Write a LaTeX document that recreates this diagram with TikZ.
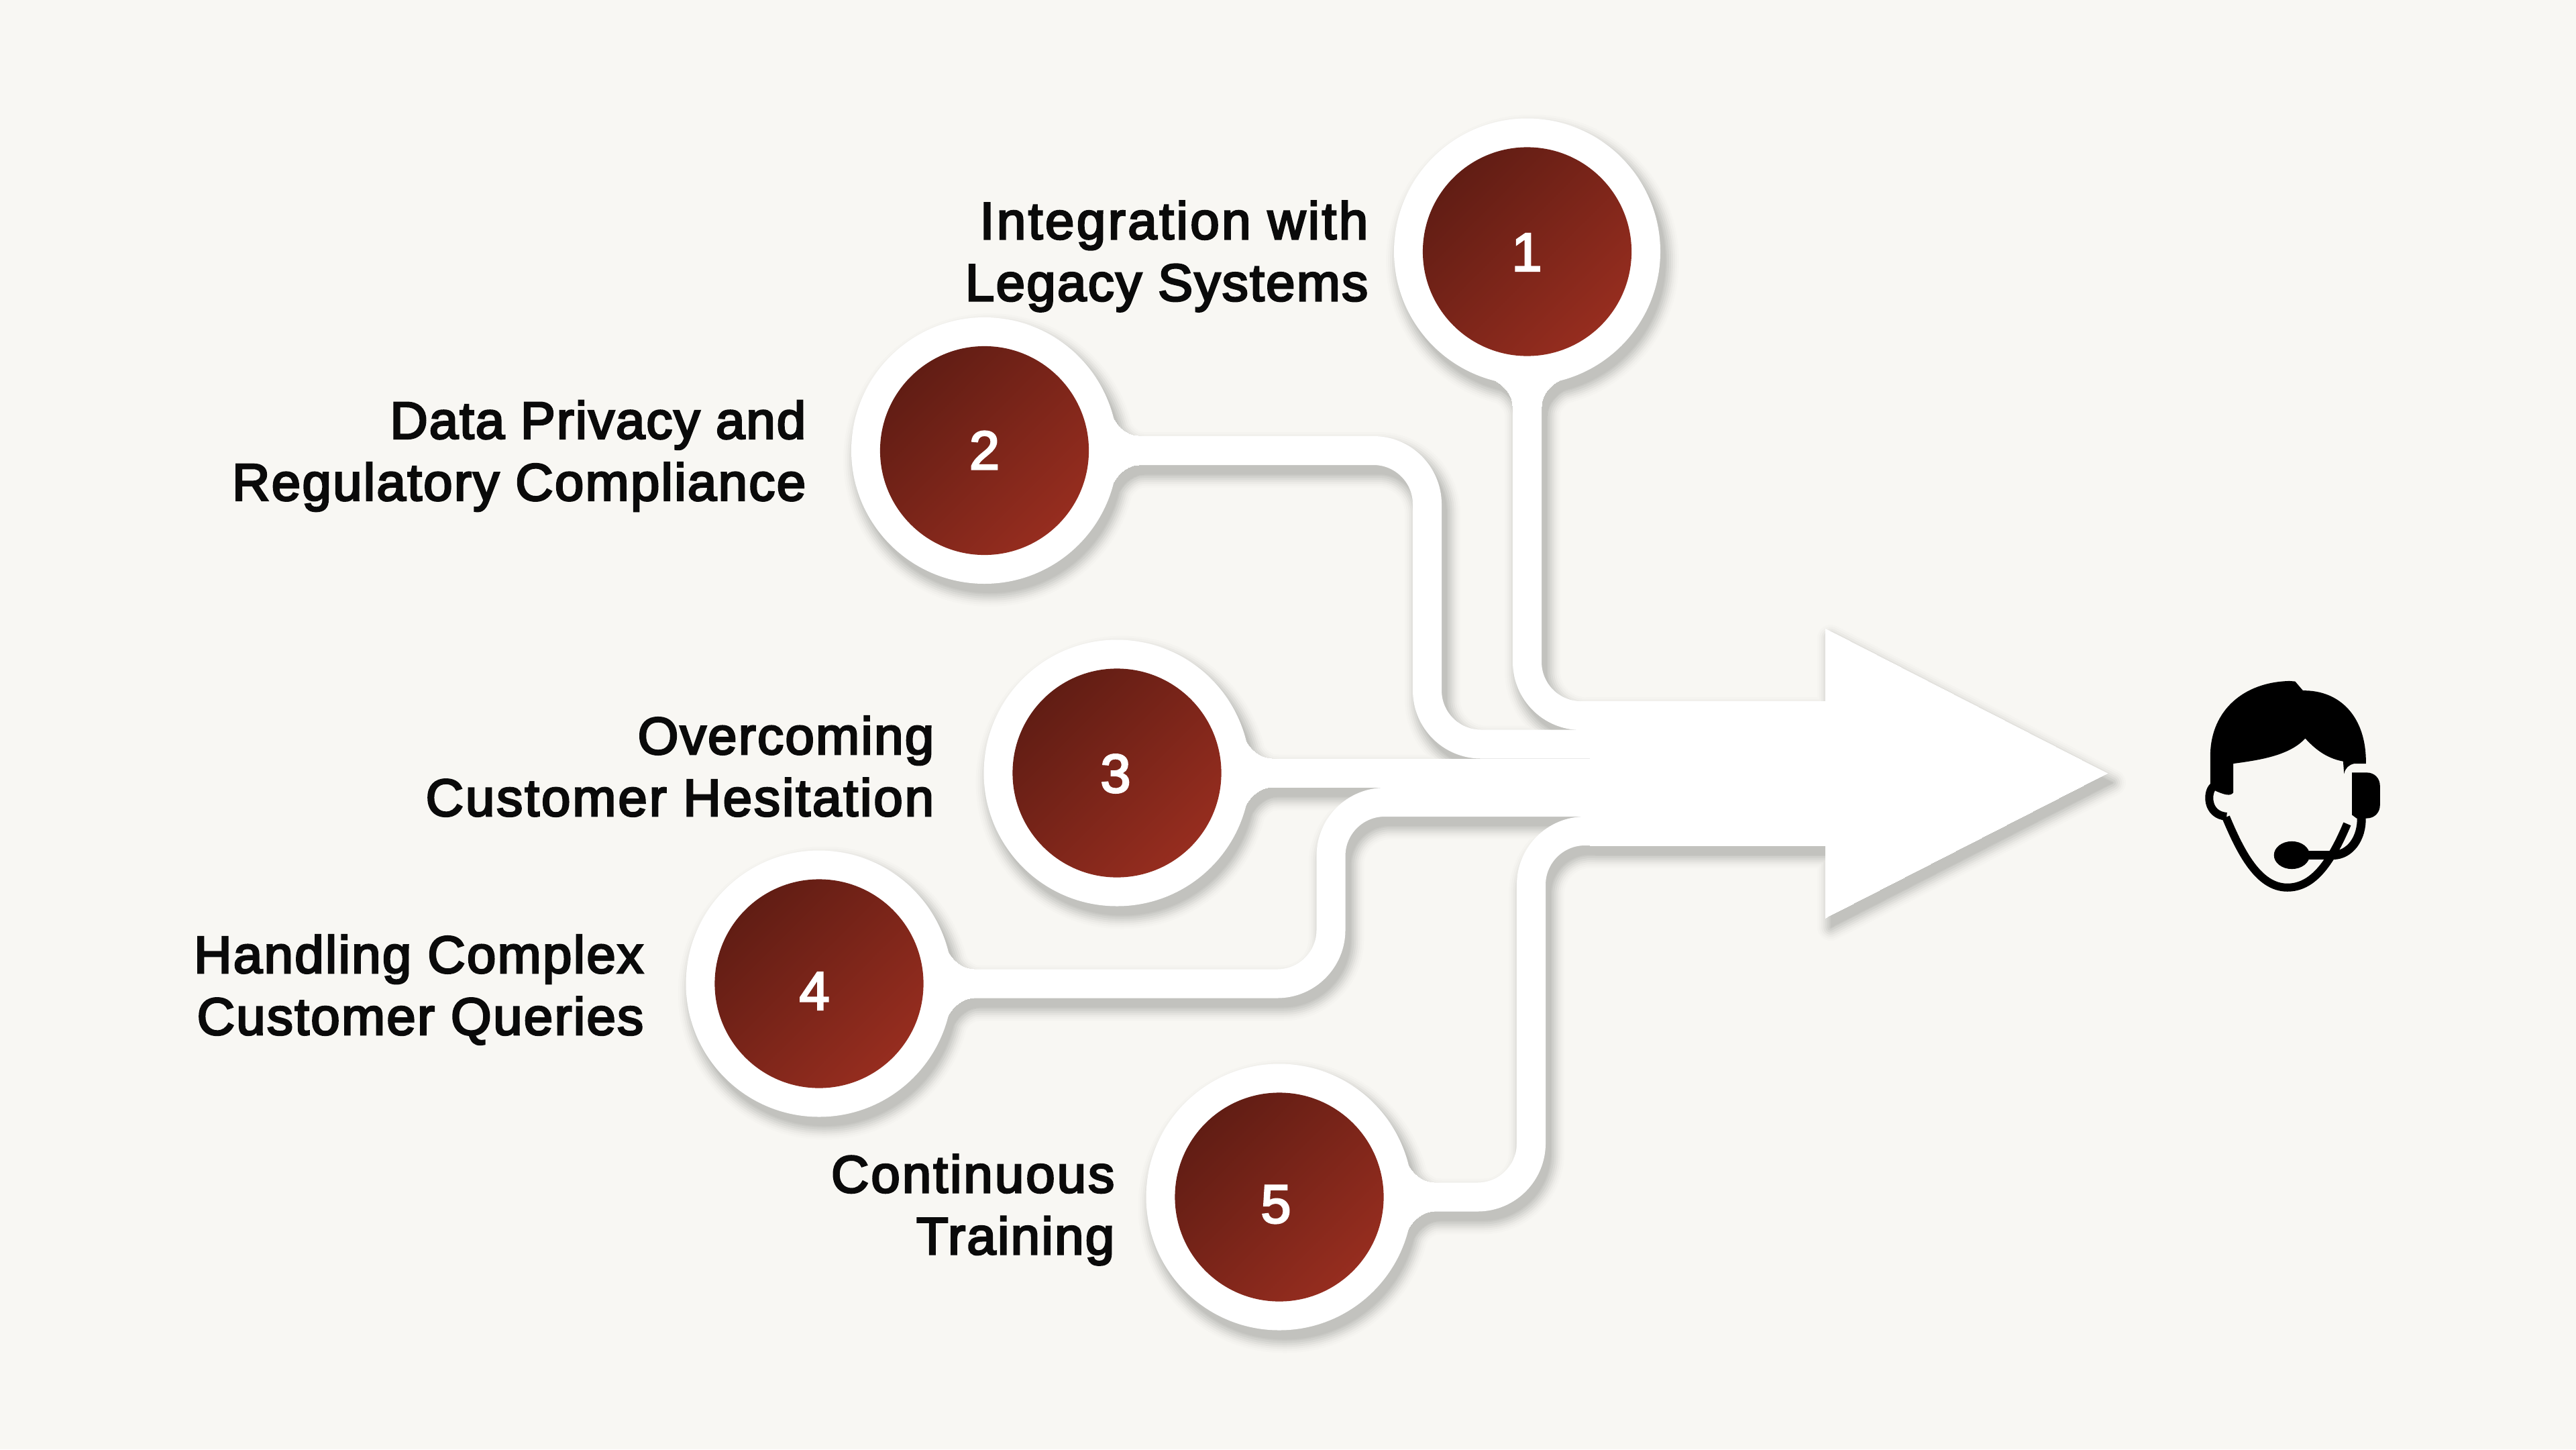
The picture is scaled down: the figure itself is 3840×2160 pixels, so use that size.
\documentclass[tikz,border=0pt]{standalone}
\usepackage{fontspec}
\setmainfont[FakeBold=3.6,LetterSpace=2.95]{Liberation Sans}
\newfontfamily\digitfont[FakeBold=3.4]{Liberation Sans}
\newcommand{\lsp}[2]{{\addfontfeature{LetterSpace=#1}#2}}
\pgfdeclarelayer{shadowlayer}
\pgfdeclarelayer{whitelayer}
\pgfsetlayers{shadowlayer,whitelayer,main}
\definecolor{pagebg}{HTML}{F8F7F3}
\definecolor{discdark}{HTML}{611D14}
\definecolor{disclight}{HTML}{962D1F}
\definecolor{inkc}{HTML}{0A0A0A}
\tikzset{
  disc/.style={circle,inner sep=0pt,minimum size=3.11cm,top color=discdark,bottom color=disclight,shading angle=45},
  digit/.style={text=white,font=\digitfont\fontsize{23}{26}\selectfont,inner sep=0pt},
  caption/.style={anchor=east,align=right,text=inkc,inner sep=0pt,font=\fontsize{22.2}{26.2}\selectfont},
  iconline/.style={draw=black,line cap=butt,line join=round,fill=none}
}
% one copy of the whole white silhouette, #1 px wider all round (as stroke)
\newcommand{\silh}[1]{%
  \begin{scope}[line join=round,line cap=butt,rounded corners=0.8cm]
    \draw[line width=(43+#1)*0.01cm] (n1.center) -- (v1) -- (e1);
    \draw[line width=(43+#1)*0.01cm] (n2.center) -| (v2) -- (e2);
    \draw[line width=(43+#1)*0.01cm] (n3.center) -- (e3);
    \draw[line width=(43+#1)*0.01cm] (n4.center) -| (v4) -- (e4);
    \draw[line width=(43+#1)*0.01cm] (n5.center) -| (v5) -- (e5);
  \end{scope}
  \foreach \n in {n1,n2,n3,n4,n5}{\fill (\n.center) circle[radius={(198.5+#1/2)*0.01cm}];}
  \foreach \n/\a in {n1/-90,n2/0,n3/0,n4/0,n5/0}{%
    \filldraw[line width=(#1)*0.01cm,line join=round,shift={(\n.center)},rotate=\a]
      (188,-58) .. controls (194,-38) and (212,-21.5) .. (230,-21.5) -- (230,21.5)
      .. controls (212,21.5) and (194,38) .. (188,58) -- cycle;}
  \filldraw[line width=(#1)*0.01cm,line join=round]
      (2721,937) -- (3141,1152.5) -- (2721,1368) -- (2721,1260) -- (2370,1260) -- (2370,1045) -- (2721,1045) -- cycle;
}
\newcommand{\shadowlayer}[2]{%
  \begin{scope}[transform canvas={shift={(0.08cm,-0.14cm)}}]
  \begin{scope}[transparency group,opacity=#2]\silh{#1}\end{scope}
  \end{scope}}
\begin{document}
\begin{tikzpicture}[x=0.01cm,y=-0.01cm]
  \useasboundingbox (0,0) rectangle (3840,2160);
  % named anchors of the channels
  \coordinate (v1) at (2276.5,1066.5); \coordinate (e1) at (2800,1066.5);
  \coordinate (v2) at (2127.5,1109);   \coordinate (e2) at (2800,1109);
  \coordinate (e3) at (2800,1152);
  \coordinate (v4) at (1984,1195.5);   \coordinate (e4) at (2800,1195.5);
  \coordinate (v5) at (2282.5,1238.5); \coordinate (e5) at (2800,1238.5);
  % discs
  \node[disc] (n1) at (2276.5,375) {};
  \node[disc] (n2) at (1467.5,671.5) {};
  \node[disc] (n3) at (1665,1152) {};
  \node[disc] (n4) at (1221,1466) {};
  \node[disc] (n5) at (1907,1784) {};
  % digits
  \node[digit] (d1) at (2276,376) {1};
  \node[digit] (d2) at (1467.5,671) {2};
  \node[digit] (d3) at (1663,1153) {3};
  \node[digit] (d4) at (1214,1477) {4};
  \node[digit] (d5) at (1902,1795) {5};
  % captions
  \node[caption] (t1) at (2040,382) {\lsp{4.5}{Integration with}\\Legacy Systems};
  \node[caption] (t2) at (1202,679.5) {\lsp{2.5}{Data Privacy and}\\Regulatory Compliance};
  \node[caption] (t3) at (1393,1142) {Overcoming\\\lsp{3.8}{Customer Hesitation}};
  \node[caption] (t4) at (960,1475) {Handling Complex\\Customer Queries};
  \node[caption] (t5) at (1662,1803) {\lsp{3.9}{Continuous}\\Training};
  % shadow
  \begin{pgfonlayer}{shadowlayer}
    \fill[pagebg] (0,0) rectangle (3840,2160);
    \begin{scope}[black]
      \foreach \e/\a in {40/0.010,34/0.016,28/0.024,22/0.030,16/0.035,10/0.038,4/0.036,0/0.030}{\shadowlayer{\e}{\a}}
    \end{scope}
  \end{pgfonlayer}
  \begin{pgfonlayer}{whitelayer}
    \begin{scope}[white,draw=white,fill=white]\silh{0}\end{scope}
  \end{pgfonlayer}
  % headset icon
  \begin{scope}[shift={(3200,950)},x=0.003333cm,y=-0.003333cm]
    \fill[black] (285,670) -- (285,520) .. controls (290,330) and (430,200) .. (640,195) -- (665,197)
      -- (700,238) .. controls (860,235) and (985,350) .. (982,565) -- (930,565)
      .. controls (905,570) and (890,585) .. (884,610) -- (880,555)
      .. controls (800,540) and (750,495) .. (710,452)
      .. controls (640,530) and (500,550) .. (388,565) -- (388,695)
      .. controls (375,712) and (350,705) .. (310,688) -- cycle;
    \draw[iconline,line width=0.12cm] (298,668) .. controls (270,690) and (265,795) .. (358,802);
    \draw[iconline,line width=0.12cm] (355,805) .. controls (420,960) and (500,1120) .. (630,1120)
       .. controls (740,1120) and (820,1020) .. (898,835);
    \draw[iconline,line width=0.13cm] (962,805) .. controls (965,900) and (910,975) .. (835,975);
    \draw[iconline,line width=0.12cm] (680,975) -- (835,975);
    \fill[black] (650,975) ellipse[x radius=80,y radius=62];
    \fill[black] (920,605) -- (985,605) .. controls (1020,605) and (1045,630) .. (1045,665) -- (1045,750)
       .. controls (1045,785) and (1020,810) .. (985,810) -- (940,810) -- (920,795) -- cycle;
  \end{scope}
\end{tikzpicture}
\end{document}
